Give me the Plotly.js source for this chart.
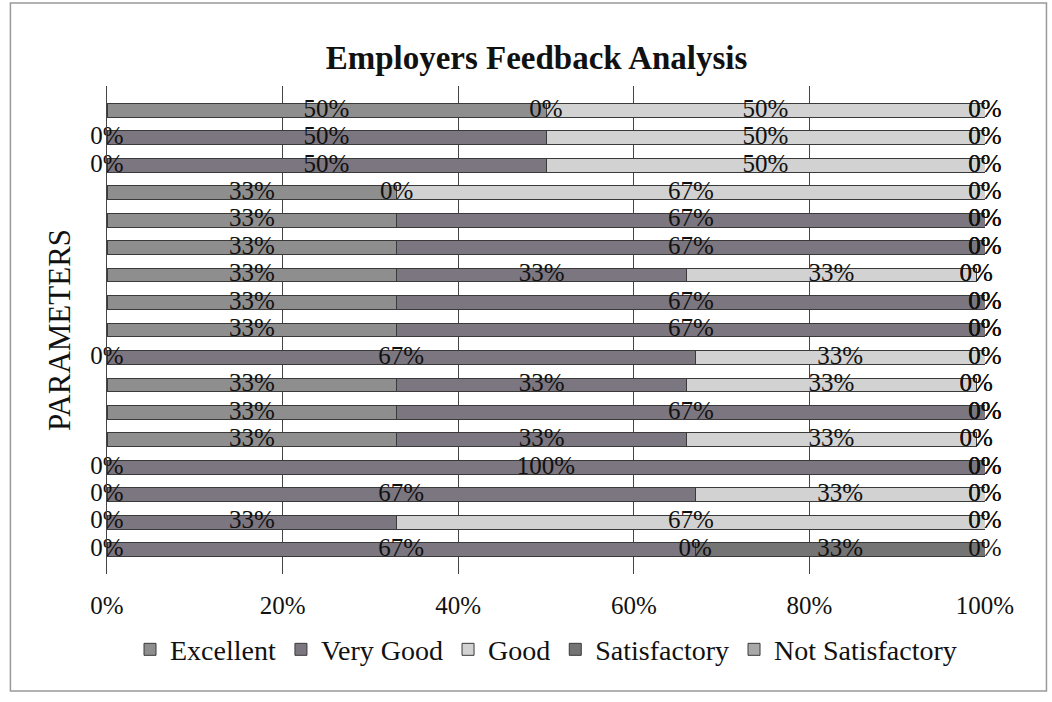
<!DOCTYPE html>
<html>
<head>
<meta charset="utf-8">
<script src="https://cdn.plot.ly/plotly-3.0.1.min.js"></script>
<style>html,body{margin:0;padding:0;background:#fff;}#chart{width:1052px;height:702px;}</style>
</head>
<body>
<div id="chart"></div>
<script>
// Parameters listed top to bottom as drawn
const parameters = ["P1","P2","P3","P4","P5","P6","P7","P8","P9","P10","P11","P12","P13","P14","P15","P16","P17"];
const excellent       = [50, 0, 0,33,33,33,33,33,33, 0,33,33,33,  0, 0, 0, 0];
const veryGood        = [ 0,50,50, 0,67,67,33,67,67,67,33,67,33,100,67,33,67];
const good            = [50,50,50,67, 0, 0,33, 0, 0,33,33, 0,33,  0,33,67, 0];
const satisfactory    = [ 0, 0, 0, 0, 0, 0, 0, 0, 0, 0, 0, 0, 0,  0, 0, 0,33];
const notSatisfactory = [ 0, 0, 0, 0, 0, 0, 0, 0, 0, 0, 0, 0, 0,  0, 0, 0, 0];
const seriesNames  = ["Excellent","Very Good","Good","Satisfactory","Not Satisfactory"];
const seriesColors = ["#8e8e8e","#7b7680","#d2d2d2","#747474","#a9a9a9"];
const xTicks = [0,20,40,60,80,100];

const series = [excellent, veryGood, good, satisfactory, notSatisfactory];
const serif = "Liberation Serif, Times New Roman, serif";
const traces = [];
series.forEach((vals, i) => {
  traces.push({
    type: "bar", orientation: "h", name: seriesNames[i],
    y: parameters, x: vals,
    marker: {color: seriesColors[i], line: {color: "#3a3a3a", width: 1}},
    hoverinfo: "skip"
  });
});
// data labels at segment centres (stacked positions derived from the data)
series.forEach((vals, i) => {
  const centres = vals.map((v, r) => {
    let base = 0;
    for (let k = 0; k < i; k++) base += series[k][r];
    return base + v / 2;
  });
  traces.push({
    type: "scatter", mode: "text", showlegend: false, hoverinfo: "skip",
    y: parameters, x: centres,
    text: vals.map(v => v + "%"),
    textposition: "middle center",
    textfont: {family: serif, size: 25, color: "#111"},
    cliponaxis: false
  });
});

const layout = {
  width: 1052, height: 702,
  paper_bgcolor: "#ffffff", plot_bgcolor: "#ffffff",
  barmode: "stack", bargap: 0.5,
  margin: {l: 107, r: 67, t: 86, b: 128},
  title: {text: "<b>Employers Feedback Analysis</b>", font: {family: serif, size: 33, color: "#111"},
          x: 0.51, xanchor: "center", y: 0.918, yref: "container", yanchor: "middle"},
  xaxis: {range: [0, 100], tickvals: xTicks, ticktext: xTicks.map(t => t + "%"),
          showgrid: true, gridcolor: "#444", gridwidth: 1, zeroline: false,
          showline: false, ticks: "", ticklabelstandoff: 14,
          tickfont: {family: serif, size: 25, color: "#111"}},
  yaxis: {type: "category", autorange: "reversed", showticklabels: false, ticks: "",
          showgrid: false, zeroline: false, showline: true, linecolor: "#444", linewidth: 1,
          title: {text: "PARAMETERS", font: {family: serif, size: 31, color: "#111"}, standoff: 26}},
  legend: {orientation: "h", x: 0.5, xanchor: "center", y: -0.155, yanchor: "middle",
           font: {family: serif, size: 28, color: "#111"}, traceorder: "normal",
           itemwidth: 30, bgcolor: "rgba(0,0,0,0)"},
  showlegend: true,
  shapes: [{type: "rect", xref: "paper", yref: "paper", x0: -0.11, x1: 1.07, y0: -0.24, y1: 1.17,
            line: {color: "#999", width: 1.5}, fillcolor: "rgba(0,0,0,0)"}]
};
Plotly.newPlot("chart", traces, layout, {displayModeBar: false, staticPlot: true});
</script>
</body>
</html>
